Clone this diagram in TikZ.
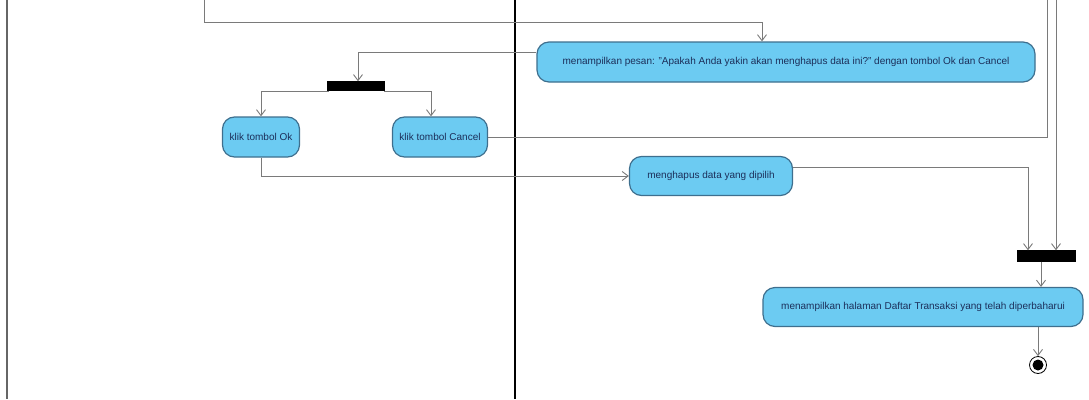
\documentclass[tikz,border=0pt]{standalone}
\usepackage{fontspec}
\setmainfont{Liberation Sans}
\usetikzlibrary{arrows.meta}
\definecolor{actfill}{HTML}{6CCBF2}
\definecolor{actdraw}{HTML}{3E6F8E}
\definecolor{acttext}{HTML}{1C2F5A}
\definecolor{flow}{HTML}{7A7A7A}
\begin{document}
\begin{tikzpicture}[x=1pt,y=-1pt,
  action/.style={draw=actdraw,fill=actfill,line width=1.2pt,rounded corners=12pt,
    text=acttext,font=\fontsize{10}{11}\selectfont,inner sep=0pt,anchor=center},
  bar/.style={fill=black,draw=black,inner sep=0pt},
  flowline/.style={draw=flow,line width=1pt},
  arr/.style={flowline,-{Straight Barb[length=6pt,width=9pt,line width=0.9pt]}},
  lane/.style={line width=1.2pt}]
\useasboundingbox (0,0) rectangle (1089,399);
% swimlane lines
\draw[lane,draw=gray!80!black] (7,0) -- (7,399);
\draw[lane,draw=black] (515,0) -- (515,399);
% nodes
\node[action,minimum width=498pt,minimum height=40pt] (pesan) at (786,62)
  {menampilkan pesan: "Apakah Anda yakin akan menghapus data ini?" dengan tombol Ok dan Cancel};
\node[bar,minimum width=57pt,minimum height=9pt] (fork) at (356,86) {};
\node[action,minimum width=77pt,minimum height=40pt] (ok) at (261,137) {klik tombol Ok};
\node[action,minimum width=95pt,minimum height=40pt] (cancel) at (440,137) {klik tombol Cancel};
\node[action,minimum width=163pt,minimum height=39pt] (hapus) at (711,176) {menghapus data yang dipilih};
\node[bar,minimum width=58pt,minimum height=11pt] (join) at (1046,256) {};
\node[action,minimum width=320pt,minimum height=39pt] (tampil) at (923,307)
  {menampilkan halaman Daftar Transaksi yang telah diperbaharui};
\node[circle,draw=black,line width=0.8pt,fill=white,minimum size=17pt,inner sep=0pt] (final) at (1038,365) {};
\fill[black] (final) circle (5.5pt);
% coordinates
\coordinate (topA) at (204,0);
\coordinate (topC) at (1047,0);
\coordinate (topB) at (1056,0);
% connectors
\draw[arr] (topA) |- (762,22) -- (pesan.north -| 762,0);
\draw[arr] (pesan.west |- 0,52) -| (fork.north -| 358,0);
\draw[arr] (fork.south -| 328,0) -- (328,91) -| (ok.north);
\draw[arr] (fork.south -| 384,0) -- (384,91) -| (cancel.north -| 431,0);
\draw[flowline] (cancel.east) -| (topC);
\draw[arr] (ok.south) |- (hapus.west);
\draw[arr] (hapus.east |- 0,167) -| (join.north -| 1028,0);
\draw[arr] (topB) -- (join.north -| 1056,0);
\draw[arr] (join.south -| 1041,0) -- (tampil.north -| 1041,0);
\draw[arr] (tampil.south -| 1038,0) -- (final.north);
\end{tikzpicture}
\end{document}
